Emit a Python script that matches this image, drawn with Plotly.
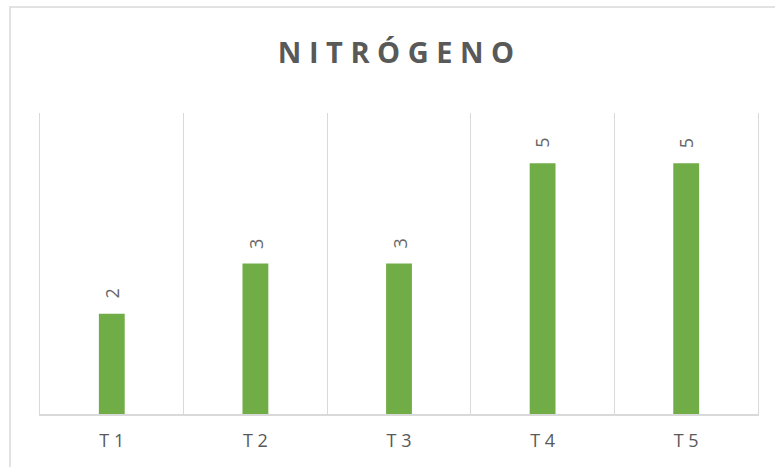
import plotly.graph_objects as go

# Nitrogen score per treatment
categories = ["T1", "T2", "T3", "T4", "T5"]
values = [2, 3, 3, 5, 5]
chart_title = "NITRÓGENO"

TEXT_GRAY = "#595959"
GRID_GRAY = "#d9d9d9"
BAR_GREEN = "#70ad47"
FONT = "Open Sans"


def spaced(s, sep=" "):
    """Widen the tracking of a label by putting spaces between characters."""
    return sep.join(s)


fig = go.Figure()
fig.add_trace(
    go.Bar(
        x=categories,
        y=values,
        marker=dict(color=BAR_GREEN, line=dict(width=0)),
        hoverinfo="x+y",
    )
)

# value labels above the bars, rotated to read bottom-to-top
for cat, val in zip(categories, values):
    fig.add_annotation(
        x=cat,
        y=val,
        text=str(val),
        textangle=-90,
        showarrow=False,
        xanchor="center",
        yanchor="bottom",
        yshift=13,
        font=dict(family=FONT, size=18, color="#666666"),
    )

# outer frame of the chart area
fig.add_shape(
    type="rect",
    xref="paper",
    yref="paper",
    x0=(10 - 40) / 718,
    x1=(790 - 40) / 718,
    y0=(414 - 480) / 301,
    y1=(414 - 7) / 301,
    line=dict(color=GRID_GRAY, width=1.5),
    fillcolor="rgba(0,0,0,0)",
    layer="below",
)

fig.update_layout(
    width=775,
    height=467,
    margin=dict(l=40, r=17, t=113, b=53),
    paper_bgcolor="white",
    plot_bgcolor="white",
    bargap=0.82,
    showlegend=False,
    title=dict(
        text=spaced(chart_title),
        x=396 / 775,
        xref="container",
        xanchor="center",
        y=1 - 53 / 467,
        yref="container",
        yanchor="middle",
        font=dict(family=FONT, size=29, color=TEXT_GRAY, weight="bold"),
    ),
    xaxis=dict(
        type="category",
        tickson="boundaries",
        tickvals=categories,
        ticktext=[spaced(c) for c in categories],
        showgrid=True,
        gridcolor=GRID_GRAY,
        gridwidth=1,
        showline=True,
        linecolor=GRID_GRAY,
        linewidth=1.5,
        ticks="",
        ticklabelstandoff=10,
        tickfont=dict(family=FONT, size=18, color=TEXT_GRAY),
        zeroline=False,
    ),
    yaxis=dict(
        range=[0, 6],
        showgrid=False,
        showticklabels=False,
        showline=True,
        mirror=True,
        linecolor=GRID_GRAY,
        linewidth=1,
        ticks="",
        zeroline=False,
    ),
)

fig.write_html("out.html")
